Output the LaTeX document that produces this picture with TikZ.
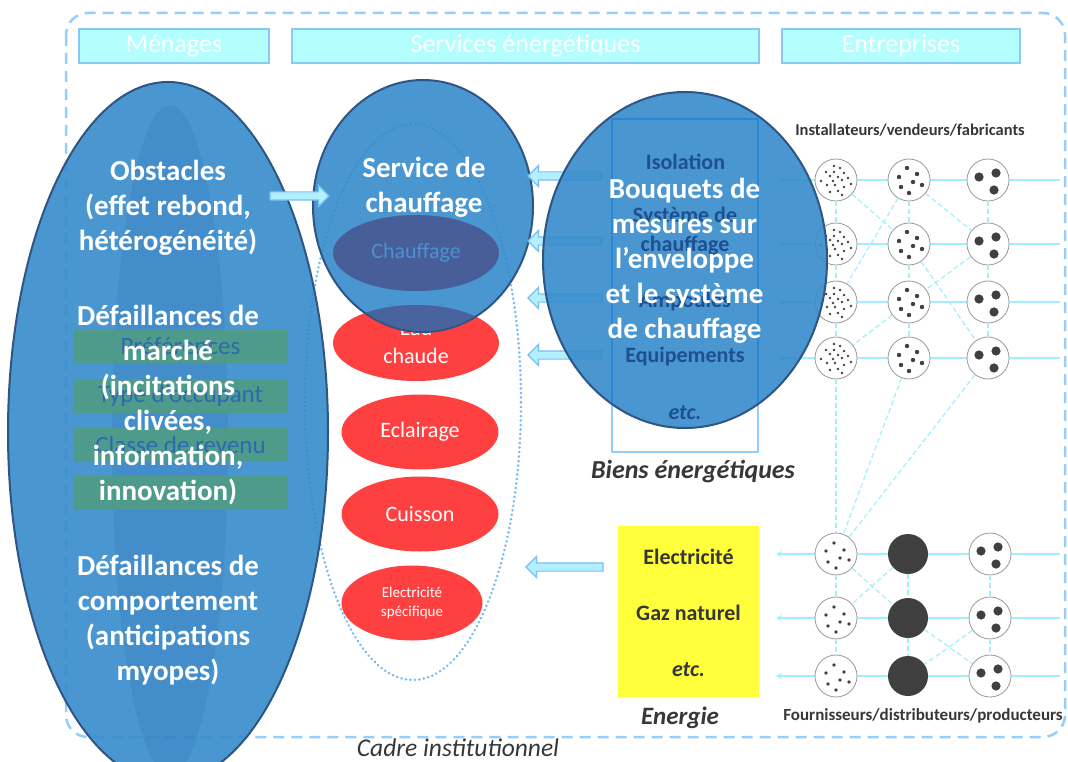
\documentclass[tikz,border=0pt]{standalone}
\usepackage{fontspec}
\setmainfont{Carlito}
\usetikzlibrary{shapes.geometric,shapes.arrows,arrows.meta}
\definecolor{ellbase}{RGB}{54,139,204}
\definecolor{elledge}{RGB}{47,85,130}
\definecolor{hdrfill}{RGB}{179,255,255}
\definecolor{hdrline}{RGB}{140,200,245}
\definecolor{frameblue}{RGB}{150,205,250}
\definecolor{dotblue}{RGB}{115,185,245}
\definecolor{redfill}{RGB}{255,64,64}
\definecolor{darkov}{RGB}{72,94,152}
\definecolor{chtxt}{RGB}{75,145,210}
\definecolor{greenbox}{RGB}{78,155,140}
\definecolor{greentxt}{RGB}{45,105,175}
\definecolor{rectline}{RGB}{150,205,255}
\definecolor{rectin}{RGB}{40,135,215}
\definecolor{recttxt}{RGB}{30,80,145}
\definecolor{yellowbox}{RGB}{255,255,60}
\definecolor{darktxt}{RGB}{55,55,55}
\definecolor{netline}{RGB}{160,240,255}
\definecolor{dotgray}{RGB}{64,64,64}
\definecolor{arrfill}{RGB}{179,240,255}
\definecolor{arrline}{RGB}{120,190,245}
\definecolor{texture}{RGB}{30,90,160}
\newcommand\myfs[2]{\fontsize{#1}{#2}\selectfont}
\begin{document}
\begin{tikzpicture}[x=1pt,y=-1pt,
  hdr/.style={draw=hdrline, line width=1.5pt, fill=hdrfill, text=white, font=\myfs{26}{30}, minimum height=34pt, inner sep=0pt},
  blueell/.style={ellipse, draw=elledge, line width=2pt, fill=ellbase, fill opacity=0.9, inner sep=0pt},
  wtxt/.style={text=white, font=\bfseries\myfs{29}{35}, align=center, inner sep=0pt},
  redell/.style={ellipse, fill=redfill, text=white, inner sep=0pt, align=center, font=\myfs{22}{28}},
  grect/.style={fill=greenbox, text=greentxt, minimum width=215pt, minimum height=34pt, inner sep=0pt, font=\myfs{25}{28}},
  rtxt/.style={text=recttxt, font=\bfseries\myfs{22}{29}, align=center, inner sep=0pt},
  ytxt/.style={text=darktxt, font=\bfseries\myfs{22}{26}, inner sep=0pt},
  harrow/.style={single arrow, fill=arrfill, draw=arrline, line width=1.2pt, inner sep=3.5pt, single arrow head extend=6.5pt, single arrow tip angle=90, minimum width=20pt},
  netln/.style={draw=netline, line width=1.8pt, -{Stealth[length=6pt,width=6pt]}},
  netdash/.style={draw=netline, line width=1.2pt, dash pattern=on 5pt off 3pt},
  netc/.style={circle, draw=gray!80, line width=0.8pt, fill=white, minimum size=42pt, inner sep=0pt},
  netf/.style={circle, fill=dotgray, minimum size=40pt, inner sep=0pt},
  dotsA/.pic={\foreach \a/\b in {-2/-14,4/-12,-10/-8,-2/-8,8/-7,-6/-4,2/-3,12/-2,-15/1,-3/1,6/0,15/4,-9/5,-1/5,8/7,-6/12,2/11,6/15} \fill[dotgray] (\a,\b) circle[radius=1.4pt];},
  dotsB/.pic={\foreach \a/\b in {-2/-12,8/-6,-10/-3,4/2,13/5,-8/7,0/13} \fill[dotgray] (\a,\b) circle[radius=2.2pt];},
  dotsC/.pic={\foreach \a/\b in {-9/-3,8/-7,6/10} \fill[dotgray] (\a,\b) circle[radius=4.6pt];},
  dotsD/.pic={\foreach \a/\b in {-2/-11,-10/-3,8/-4,4/4,-8/8,13/6,0/14} \fill[dotgray] (\a,\b) circle[radius=1.9pt];}
]
\useasboundingbox (0,0) rectangle (1068,762);
\fill[white] (0,0) rectangle (1068,762);

% institutional frame
\draw[frameblue, line width=2.5pt, dash pattern=on 11pt off 7pt, rounded corners=22pt] (66,13) rectangle (1065,737);

% headers
\node[hdr, minimum width=190pt] (hm) at (174,46) {Ménages};
\node[hdr, minimum width=467pt] (hs) at (525.5,46) {Services énergétiques};
\node[hdr, minimum width=238pt] (he) at (901,46) {Entreprises};

% services dotted envelope
\node[ellipse, draw=dotblue, line width=2.8pt, dash pattern=on 0.01pt off 4.5pt, line cap=round, minimum width=216pt, minimum height=556pt, inner sep=0pt] (senv) at (413,402) {};

% red service ellipses
\node[redell, minimum width=166pt, minimum height=76pt] (eau) at (416,343) {Eau\\chaude};
\node[redell, minimum width=157pt, minimum height=75pt] (ecl) at (420,432) {Eclairage};
\node[redell, minimum width=157pt, minimum height=75pt] (cui) at (420,514) {Cuisson};
\node[redell, minimum width=141pt, minimum height=75pt, font=\myfs{15}{19}] (els) at (412,603) {Electricité\\spécifique};

% network: horizontal lines
\foreach \r/\y in {1/180,2/244,3/302,4/358} {
  \coordinate (tr\r) at (1060,\y); \coordinate (tl\r) at (779,\y);
  \draw[netln] (tr\r) -- (tl\r);
}
\foreach \r/\y in {1/554,2/618,3/676} {
  \coordinate (br\r) at (1060,\y); \coordinate (bl\r) at (776,\y);
  \draw[netln] (br\r) -- (bl\r);
}
% network nodes
\foreach \r/\y in {1/180,2/244,3/302,4/358} {
  \node[netc] (t1\r) at (836,\y) {};
  \node[netc] (t2\r) at (909,\y) {};
  \node[netc] (t3\r) at (988,\y) {};
  \pic at (t1\r) {dotsA};
  \pic at (t2\r) {dotsB};
  \pic at (t3\r) {dotsC};
}
\foreach \r/\y in {1/554,2/618,3/676} {
  \node[netc] (b1\r) at (836,\y) {};
  \node[netf] (b2\r) at (908,\y) {};
  \node[netc] (b3\r) at (990,\y) {};
  \pic at (b1\r) {dotsD};
  \pic at (b3\r) {dotsC};
}
% network dashed links
\foreach \a/\b in {t11/t12,t12/t13,t13/t14,t14/b11,t21/t22,t22/t23,t23/t24,t31/t32,t32/t33,t33/t34,
                   t11/t22,t21/t13,t21/t32,t32/t23,t22/t34,t23/t14,t24/b11,t34/b11,
                   b11/b12,b12/b13,b21/b22,b22/b23,b31/b32,b32/b33,b11/b22,b21/b12,b22/b33,b32/b23}
  \draw[netdash] (\a) -- (\b);

% labels of firms
\node[text=darktxt, font=\bfseries\myfs{16.5}{19}, inner sep=0pt] (linst) at (910,130) {Installateurs/vendeurs/fabricants};
\node[text=darktxt, font=\bfseries\myfs{17}{19}, inner sep=0pt] (lfour) at (923,716) {Fournisseurs/distributeurs/producteurs};

% energy goods box
\node[draw=rectline, line width=2pt, fill=white, minimum width=146pt, minimum height=333pt, inner sep=0pt] (bien) at (685,285.5) {};
\node[text=darktxt, font=\bfseries\itshape\myfs{26}{30}, inner sep=0pt] (lbien) at (693,472) {Biens énergétiques};

% energy box
\node[fill=yellowbox, minimum width=141pt, minimum height=171pt, inner sep=0pt] (ybox) at (688.5,611.5) {};
\node[ytxt] (yel) at (688.5,557) {Electricité};
\node[ytxt] (yga) at (688.5,613) {Gaz naturel};
\node[ytxt, font=\bfseries\itshape\myfs{22}{26}] (yet) at (688.5,670) {etc.};
\node[text=darktxt, font=\bfseries\itshape\myfs{25}{30}, inner sep=0pt] (lener) at (680,718) {Energie};
\node[harrow, minimum height=77pt, shape border rotate=180] (aen) at (566.5,567) {};

% households ellipse
\node[blueell, minimum width=320pt, minimum height=700pt] (men) at (168,432) {};
\fill[texture, opacity=0.13] (170,440) ellipse [x radius=58pt, y radius=335pt];
\node[grect] (g1) at (180.5,346) {Préférences};
\node[grect] (g2) at (180.5,395.5) {Type d’occupant};
\node[grect] (g3) at (180.5,444.5) {Classe de revenu};
\node[grect] (g4) at (180.5,493) {};
\node[wtxt] (tob) at (168,208) {Obstacles\\(effet rebond,\\hétérogénéité)};
\node[wtxt] (tdm) at (168,405) {Défaillances de\\marché\\(incitations\\clivées,\\information,\\innovation)};
\node[wtxt] (tdc) at (168,620) {Défaillances de\\comportement\\(anticipations\\myopes)};

% heating service circle
\node[blueell, minimum width=220pt, minimum height=252pt] (serv) at (423,206) {};
\begin{scope}
  \clip (423,206) ellipse [x radius=109pt, y radius=125pt];
  \fill[darkov, opacity=0.85] (416,343) ellipse [x radius=83pt, y radius=38pt];
\end{scope}
\node[ellipse, fill=darkov, text=chtxt, minimum width=166pt, minimum height=76pt, inner sep=0pt, font=\myfs{22}{26}] (chf) at (416,253) {Chauffage};
\node[wtxt] (tsc) at (424,187) {Service de\\chauffage};

% arrows from goods to service
\node[harrow, minimum height=74pt, shape border rotate=180] (ag1) at (567,176) {};
\node[harrow, minimum height=74pt, shape border rotate=180] (ag2) at (567,241) {};
\node[harrow, minimum height=74pt, shape border rotate=180] (ag3) at (567,298) {};
\node[harrow, minimum height=74pt, shape border rotate=180] (ag4) at (567,355) {};

% bundles ellipse
\node[blueell, minimum width=284pt, minimum height=336pt] (bouq) at (685,260) {};
\begin{scope}
  \clip (685,260) ellipse [x radius=141pt, y radius=167pt];
  \draw[rectin, line width=2pt] (612,119) rectangle (758,452);
\end{scope}
\node[rtxt] (ri) at (685.5,162) {Isolation};
\node[rtxt] (rs) at (685,231) {Système de\\chauffage};
\node[rtxt] (ra) at (685,302) {Ampoules};
\node[rtxt] (re) at (685,357) {Equipements};
\node[rtxt, font=\bfseries\itshape\myfs{22}{26}] (rt) at (685,413) {etc.};
\node[wtxt] (tbq) at (684.5,261) {Bouquets de\\mesures sur\\l’enveloppe\\et le système\\de chauffage};

% arrow from households to service
\node[harrow, minimum height=59pt] (ahs) at (297.5,196) {};

% institutional label
\node[text=darktxt, font=\itshape\myfs{25.5}{30}, inner sep=0pt] (lcad) at (458,748) {Cadre institutionnel};
\end{tikzpicture}
\end{document}
